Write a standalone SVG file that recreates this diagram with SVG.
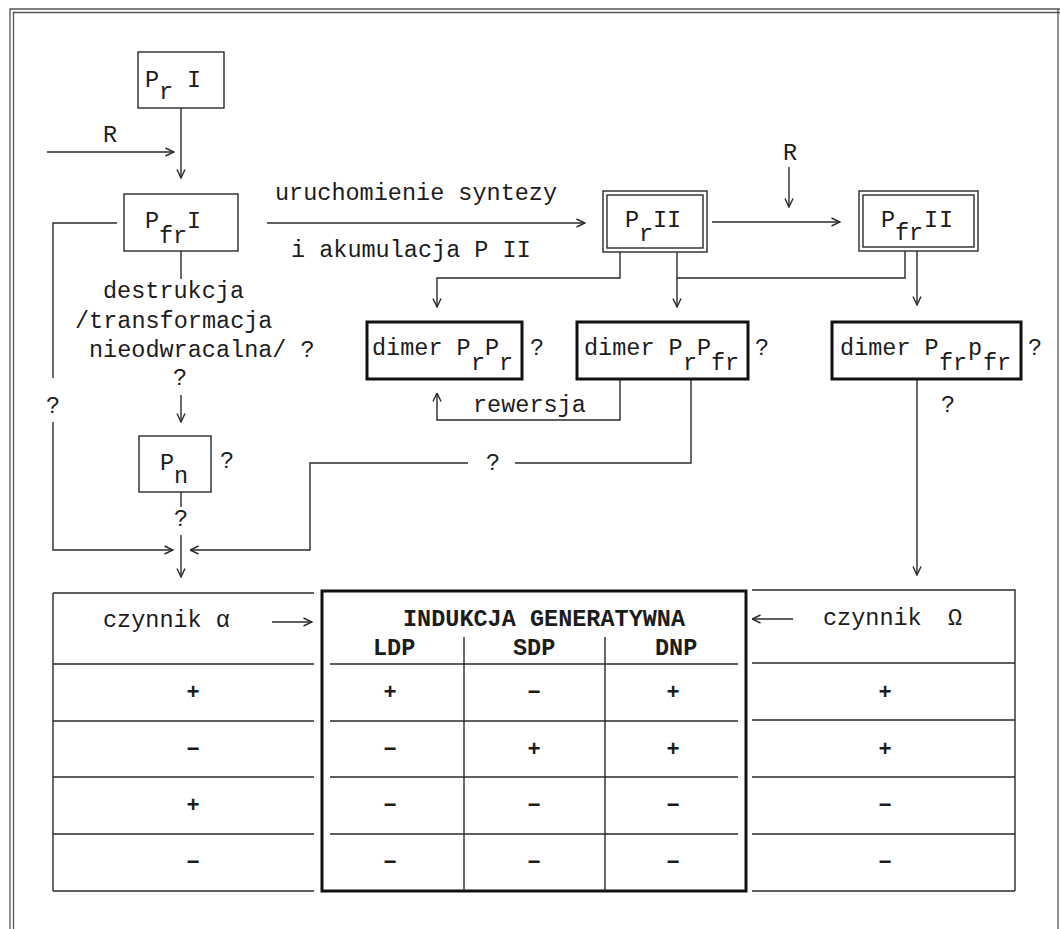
<svg xmlns="http://www.w3.org/2000/svg" width="1060" height="929" viewBox="0 0 1060 929">
<style>
.ln{stroke:#2a2a2a;stroke-width:1.4;fill:none}
.fr{stroke:#555;stroke-width:1.3;fill:none}
.bx{stroke:#2a2a2a;stroke-width:1.4;fill:#fff}
.tk{stroke:#111;stroke-width:3;fill:#fff}
.tkn{stroke:#111;stroke-width:3;fill:none}
text{font-family:"Liberation Mono","Courier New",monospace;font-size:23.5px;fill:#1c1c1c}
.b{font-weight:bold}
.s{font-weight:bold;font-size:22px;text-anchor:middle}
</style>
<defs>
<marker id="ah" viewBox="0 0 10 10" refX="9.5" refY="5" markerWidth="10" markerHeight="10" markerUnits="userSpaceOnUse" orient="auto">
<path d="M1,1 L9.5,5 L1,9" fill="none" stroke="#2a2a2a" stroke-width="1.4"/>
</marker>
</defs>
<rect width="1060" height="929" fill="#fff"/>
<g id="frame">
<path class="fr" d="M10,929 V9 H1060"/>
<path class="fr" d="M13.5,929 V12.5 H1060"/>
<path class="fr" d="M1058,9 V929"/>
</g>
<g id="connectors">
<path class="ln" d="M181,108 V178" marker-end="url(#ah)"/>
<path class="ln" d="M47,152 H174" marker-end="url(#ah)"/>
<path class="ln" d="M267,223 H585" marker-end="url(#ah)"/>
<path class="ln" d="M712,222 H840" marker-end="url(#ah)"/>
<path class="ln" d="M789,167 V207" marker-end="url(#ah)"/>
<path class="ln" d="M620,252 V278 H437 V307" marker-end="url(#ah)"/>
<path class="ln" d="M677,252 V307" marker-end="url(#ah)"/>
<path class="ln" d="M905,251 V278 H677"/>
<path class="ln" d="M917,251 V305" marker-end="url(#ah)"/>
<path class="ln" d="M917,379 V575" marker-end="url(#ah)"/>
<path class="ln" d="M620,379 V420 H437 V393" marker-end="url(#ah)"/>
<path class="ln" d="M691,379 V463 H515"/>
<path class="ln" d="M468,463 H310 V550 H190" marker-end="url(#ah)"/>
<path class="ln" d="M117,223 H53 V378"/>
<path class="ln" d="M53,422 V550 H173" marker-end="url(#ah)"/>
<path class="ln" d="M181,251 V279"/>
<path class="ln" d="M181,395 V422" marker-end="url(#ah)"/>
<path class="ln" d="M181,492 V507"/>
<path class="ln" d="M181,535 V577" marker-end="url(#ah)"/>
<path class="ln" d="M272,622 H312" marker-end="url(#ah)"/>
<path class="ln" d="M793,619 H752" marker-end="url(#ah)"/>
</g>
<g id="labels">
<text x="103" y="142">R</text>
<text x="783" y="160">R</text>
<text x="275" y="200">uruchomienie syntezy</text>
<text x="291" y="257">i akumulacja P II</text>
<text x="103" y="298">destrukcja</text>
<text x="75" y="328">/transformacja</text>
<text x="89" y="357">nieodwracalna/ ?</text>
<text x="173" y="385">?</text>
<text x="46" y="413">?</text>
<text x="174" y="526">?</text>
<text x="486" y="470">?</text>
<text x="473" y="412">rewersja</text>
<text x="941" y="412">?</text>
</g>
<g id="n_PrI">
<rect class="bx" x="138" y="52" width="86" height="56"/>
<text x="145" y="87">P</text><text x="159" y="99">r</text><text x="187" y="87">I</text>
</g>
<g id="n_PfrI">
<rect class="bx" x="124" y="194" width="114" height="57"/>
<text x="145" y="228">P</text><text x="159" y="243">f</text><text x="173" y="243">r</text><text x="187" y="228">I</text>
</g>
<g id="n_PrII">
<rect class="bx" x="603" y="191" width="104" height="61" stroke-width="2.2"/>
<rect class="ln" x="607" y="195" width="96" height="53"/>
<text x="625" y="227">P</text><text x="639" y="241">r</text><text x="653" y="227">I</text><text x="667" y="227">I</text>
</g>
<g id="n_PfrII">
<rect class="bx" x="859" y="191" width="119" height="60" stroke-width="2.2"/>
<rect class="ln" x="863" y="195" width="111" height="52"/>
<text x="881" y="227">P</text><text x="895" y="240">f</text><text x="909" y="240">r</text><text x="924" y="227">I</text><text x="939" y="227">I</text>
</g>
<g id="n_dimerPrPr">
<rect class="tk" x="367" y="322" width="155" height="57"/>
<text x="372" y="355">dimer P</text><text x="471" y="370">r</text><text x="485" y="355">P</text><text x="499" y="370">r</text>
<text x="530" y="355">?</text>
</g>
<g id="n_dimerPrPfr">
<rect class="tk" x="577" y="322" width="171" height="57"/>
<text x="584" y="355">dimer P</text><text x="683" y="370">r</text><text x="697" y="355">P</text><text x="711" y="370">f</text><text x="725" y="370">r</text>
<text x="755" y="355">?</text>
</g>
<g id="n_dimerPfrPfr">
<rect class="tk" x="832" y="322" width="189" height="57"/>
<text x="840" y="355">dimer P</text><text x="939" y="370">f</text><text x="953" y="370">r</text><text x="968" y="355">p</text><text x="983" y="370">f</text><text x="997" y="370">r</text>
<text x="1028" y="355">?</text>
</g>
<g id="n_Pn">
<rect class="bx" x="139" y="436" width="72" height="56"/>
<text x="160" y="470">P</text><text x="174" y="483">n</text>
<text x="220" y="468">?</text>
</g>
<g id="t_alpha">
<path class="ln" d="M53,593 H314 M53,593 V891 M53,664 H314 M53,721 H314 M53,777 H314 M53,834 H314 M53,891 H314"/>
<text x="103" y="627">czynnik α</text>
<text class="s" x="193" y="699">+</text>
<text class="s" x="193" y="756">−</text>
<text class="s" x="193" y="812">+</text>
<text class="s" x="193" y="869">−</text>
</g>
<g id="t_induction">
<rect class="tkn" x="322" y="591" width="424" height="300"/>
<path class="ln" d="M330,664 H738 M330,721 H738 M330,777 H738 M330,834 H738 M464,637 V891 M605,637 V891"/>
<text class="b" x="403" y="626">INDUKCJA GENERATYWNA</text>
<text class="b" x="373" y="655">LDP</text>
<text class="b" x="513" y="655">SDP</text>
<text class="b" x="655" y="655">DNP</text>
<text class="s" x="390" y="699">+</text><text class="s" x="534" y="699">−</text><text class="s" x="673" y="699">+</text>
<text class="s" x="390" y="756">−</text><text class="s" x="534" y="756">+</text><text class="s" x="673" y="756">+</text>
<text class="s" x="390" y="812">−</text><text class="s" x="534" y="812">−</text><text class="s" x="673" y="812">−</text>
<text class="s" x="390" y="869">−</text><text class="s" x="534" y="869">−</text><text class="s" x="673" y="869">−</text>
</g>
<g id="t_omega">
<path class="ln" d="M752,590 H1015 V891 M752,663 H1015 M752,720 H1015 M752,777 H1015 M752,834 H1015 M752,891 H1015"/>
<text x="823" y="625">czynnik</text><text x="948" y="625">Ω</text>
<text class="s" x="885" y="699">+</text>
<text class="s" x="885" y="756">+</text>
<text class="s" x="885" y="812">−</text>
<text class="s" x="885" y="869">−</text>
</g>
</svg>
